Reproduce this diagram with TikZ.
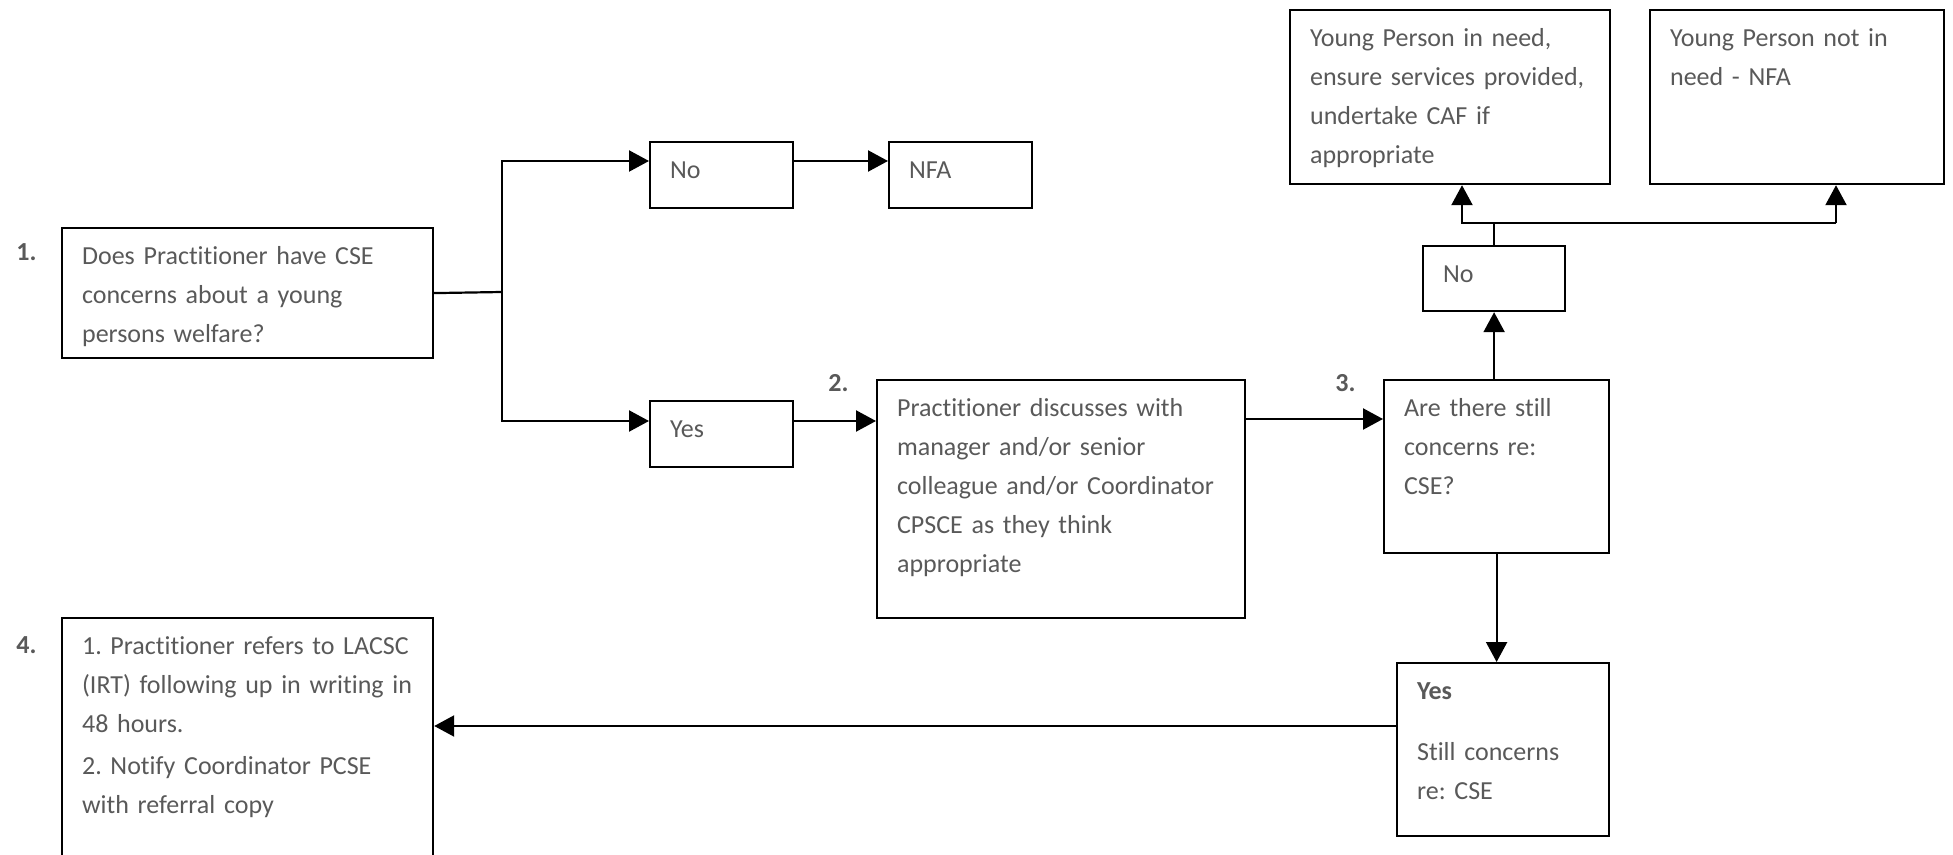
\documentclass[tikz,border=0pt]{standalone}
\usepackage{fontspec}
\setmainfont{Carlito}[Ligatures=NoCommon]
\usepackage{xcolor}
\usepackage{tikz}
\usetikzlibrary{arrows.meta}
\definecolor{txtgrey}{RGB}{89,89,89}
\newcommand{\flowfont}{\fontsize{13pt}{19.5pt}\selectfont\frenchspacing}

\begin{document}
\begin{tikzpicture}[x=0.5pt, y=-0.5pt, >={Triangle[length=10pt,width=10.5pt]},
  box/.style={draw, line width=1.1pt, anchor=north west, align=left,
    inner xsep=10pt, inner ysep=4.35pt, text height=13.65pt,
    font=\flowfont, text=txtgrey},
  stepnum/.style={anchor=base west, inner sep=0pt, font=\flowfont\bfseries, text=txtgrey},
  line/.style={line width=1.1pt},
  arr/.style={line width=1.1pt, ->}]
  \useasboundingbox (0,0) rectangle (1953,855);

  % Step 1: initial question
  \node[stepnum] (n1) at (16,261) {1.};
  \node[box, text width=165.5pt, text depth=42.65pt] (concern) at (61,227)
    {Does Practitioner have CSE\\concerns about a young\\persons welfare?};

  % Answers to step 1
  \node[box, text width=51.5pt, text depth=10.65pt] (no)  at (649,141) {No};
  \node[box, text width=51.5pt, text depth=10.65pt] (nfa) at (888,141) {NFA};
  \node[box, text width=51.5pt, text depth=10.65pt] (yes) at (649,400) {Yes};

  % Step 2: discussion
  \node[stepnum] (n2) at (828,392) {2.};
  \node[box, text width=164pt, text depth=96.65pt] (discuss) at (876,379)
    {Practitioner discusses with\\manager and/or senior\\colleague and/or Coordinator\\CPSCE as they think\\appropriate};

  % Step 3: still concerned?
  \node[stepnum] (n3) at (1335,392) {3.};
  \node[box, text width=92.5pt, text depth=64.15pt] (still) at (1383,379)
    {Are there still\\concerns re:\\CSE?};
  \node[box, text width=51pt, text depth=10.15pt] (nocse) at (1422,245) {No};
  \node[box, text width=140pt, text depth=64.65pt] (inneed) at (1289,9)
    {Young Person in need,\\ensure services provided,\\undertake CAF if\\appropriate};
  \node[box, text width=127pt, text depth=64.65pt] (notneed) at (1649,9)
    {Young Person not in\\need - NFA};
  \node[box, text width=86pt, text depth=64.15pt] (stillyes) at (1396,662)
    {\textbf{Yes}\\[11pt]Still concerns\\re: CSE};

  % Step 4: referral
  \node[stepnum] (n4) at (16,653) {4.};
  \node[box, text width=165.5pt, text depth=107.65pt] (refer) at (61,617)
    {1. Practitioner refers to LACSC\\(IRT) following up in writing in\\48 hours.\\[1.5pt]2. Notify Coordinator PCSE\\with referral copy};

  % Connectors
  \coordinate (split) at (502,292);
  \coordinate (forkL) at (1462,223);
  \coordinate (forkR) at (1836,223);
  \draw[line] (concern.east) -- (split);
  \draw[arr] (split) |- ([yshift=-10pt]no.north west);
  \draw[arr] (split) |- ([yshift=-10.5pt]yes.north west);
  \draw[arr] ([yshift=-10pt]no.north east) -- ([yshift=-10pt]nfa.north west);
  \draw[arr] ([yshift=-10.5pt]yes.north east) -- ([yshift=-10.5pt]yes.north east -| discuss.west);
  \draw[arr] ([yshift=-20pt]discuss.north east) -- ([yshift=-20pt]discuss.north east -| still.west);
  \draw[arr] (still.north -| nocse.south) -- (nocse.south);
  \draw[line] (nocse.north) -- (nocse.north |- forkL);
  \draw[arr] (forkR) -- (forkL) -- (forkL |- inneed.south);
  \draw[arr] (forkR) -- (forkR |- notneed.south);
  \draw[arr] (still.south) -- (still.south |- stillyes.north);
  \draw[arr] ([yshift=-32pt]stillyes.north west) -- ([yshift=-32pt]stillyes.north west -| refer.east);
\end{tikzpicture}
\end{document}
